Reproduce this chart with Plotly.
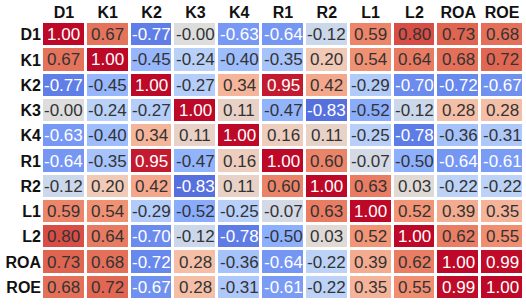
import plotly.graph_objects as go

labels = ["D1", "K1", "K2", "K3", "K4", "R1", "R2", "L1", "L2", "ROA", "ROE"]

corr = [
    [1.00, 0.67, -0.77, -0.00, -0.63, -0.64, -0.12, 0.59, 0.80, 0.73, 0.68],
    [0.67, 1.00, -0.45, -0.24, -0.40, -0.35, 0.20, 0.54, 0.64, 0.68, 0.72],
    [-0.77, -0.45, 1.00, -0.27, 0.34, 0.95, 0.42, -0.29, -0.70, -0.72, -0.67],
    [-0.00, -0.24, -0.27, 1.00, 0.11, -0.47, -0.83, -0.52, -0.12, 0.28, 0.28],
    [-0.63, -0.40, 0.34, 0.11, 1.00, 0.16, 0.11, -0.25, -0.78, -0.36, -0.31],
    [-0.64, -0.35, 0.95, -0.47, 0.16, 1.00, 0.60, -0.07, -0.50, -0.64, -0.61],
    [-0.12, 0.20, 0.42, -0.83, 0.11, 0.60, 1.00, 0.63, 0.03, -0.22, -0.22],
    [0.59, 0.54, -0.29, -0.52, -0.25, -0.07, 0.63, 1.00, 0.52, 0.39, 0.35],
    [0.80, 0.64, -0.70, -0.12, -0.78, -0.50, 0.03, 0.52, 1.00, 0.62, 0.55],
    [0.73, 0.68, -0.72, 0.28, -0.36, -0.64, -0.22, 0.39, 0.62, 1.00, 0.99],
    [0.68, 0.72, -0.67, 0.28, -0.31, -0.61, -0.22, 0.35, 0.55, 0.99, 1.00],
]

coolwarm = [
    [0.0, "rgb(59,76,192)"],
    [0.125, "rgb(98,130,234)"],
    [0.25, "rgb(141,176,254)"],
    [0.375, "rgb(184,208,249)"],
    [0.5, "rgb(221,221,221)"],
    [0.625, "rgb(245,196,173)"],
    [0.75, "rgb(244,154,123)"],
    [0.875, "rgb(222,96,77)"],
    [1.0, "rgb(190,8,40)"],
]

fig = go.Figure(
    go.Heatmap(
        z=corr, x=labels, y=labels, zmin=-1, zmax=1,
        colorscale=coolwarm, showscale=False, xgap=3, ygap=3,
        hoverinfo="skip",
    )
)

annotations = []
for i, row_label in enumerate(labels):
    for j, col_label in enumerate(labels):
        v = corr[i][j]
        white = v >= 0.9 or v <= -0.6
        txt = f"{v:.2f}"
        if txt == "0.00" and str(v).startswith("-"):
            txt = "-0.00"
        annotations.append(dict(
            x=col_label, y=row_label, text=txt, showarrow=False,
            font=dict(family="Liberation Sans, Arial, sans-serif", size=17,
                      color="white" if white else "#333333"),
        ))

fig.update_layout(
    width=526, height=306,
    margin=dict(l=42, r=2, t=22, b=6),
    paper_bgcolor="white", plot_bgcolor="white",
    annotations=annotations,
    font=dict(family="Liberation Sans, Arial, sans-serif"),
)
fig.update_xaxes(side="top", showgrid=False, zeroline=False, ticks="",
                 tickfont=dict(size=16, color="#111", weight="bold"))
fig.update_yaxes(autorange="reversed", showgrid=False, zeroline=False, ticks="",
                 tickfont=dict(size=16, color="#111", weight="bold"))

fig.write_html(
    "out.html",
    config={"displayModeBar": False},
    post_script="document.body.style.margin='0';document.body.style.overflow='hidden';",
)
